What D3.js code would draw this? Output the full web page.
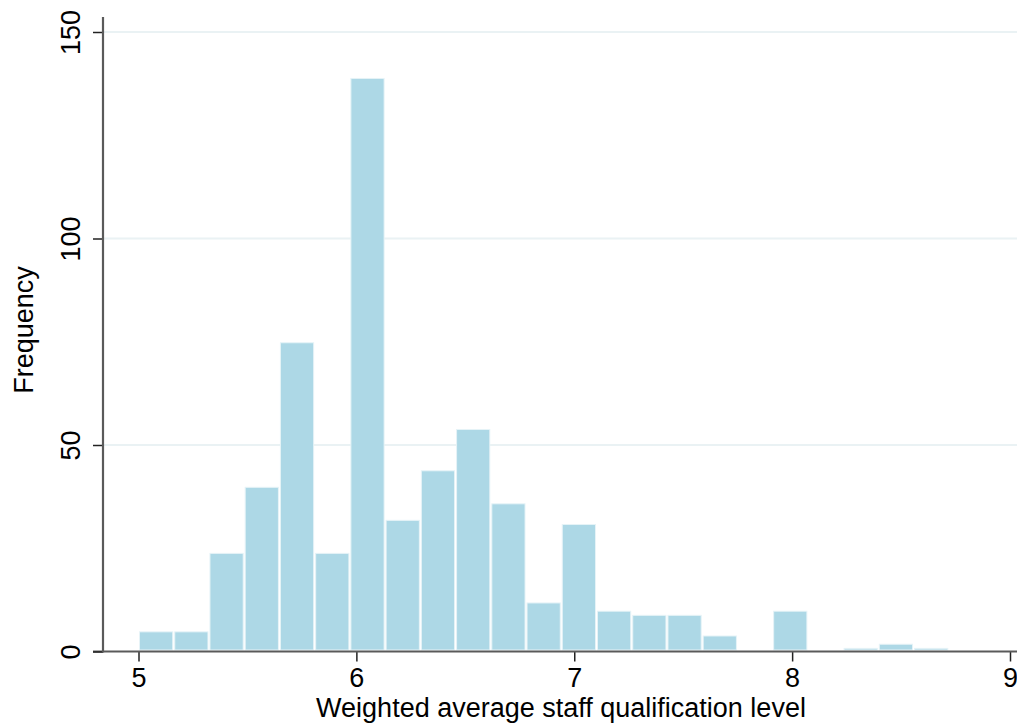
<!DOCTYPE html>
<html>
<head>
<meta charset="utf-8">
<script src="https://cdn.jsdelivr.net/npm/d3@7/dist/d3.min.js"></script>
<style>
  html, body { margin: 0; padding: 0; background: #fff; }
  svg { display: block; font-family: "Liberation Sans", Arial, sans-serif; }
</style>
</head>
<body>
<svg id="chart" width="1017" height="725"></svg>
<script>
// Histogram bins: left edge of first bin and common width
const binStart = 5.0;
const binWidth = 0.1617;
// Frequency in each bin
const counts = [5, 5, 24, 40, 75, 24, 139, 32, 44, 54, 36, 12, 31, 10, 9, 9, 4, 0, 10, 0, 1, 2, 1];
// Axis ticks
const xTicks = [5, 6, 7, 8, 9];
const yTicks = [0, 50, 100, 150];
const xTitle = "Weighted average staff qualification level";
const yTitle = "Frequency";

const bins = counts.map((c, i) => ({ x0: binStart + i * binWidth, x1: binStart + (i + 1) * binWidth, count: c }));

const svg = d3.select("#chart");
const axisX0 = 103, plotRight = 1017, axisY = 651.5;
const fontSize = 27;

const x = d3.scaleLinear().domain([5, 9]).range([138.5, 1010]);
const y = d3.scaleLinear().domain([0, 150]).range([axisY, 32]);

const axisColor = "#5a5a5a";

// horizontal grid lines
svg.append("g").selectAll("line")
  .data(yTicks.filter(t => t > 0))
  .join("line")
  .attr("x1", axisX0 + 1).attr("x2", plotRight)
  .attr("y1", d => y(d)).attr("y2", d => y(d))
  .attr("stroke", "#eaf2f4").attr("stroke-width", 2);

// bars
svg.append("g").selectAll("rect")
  .data(bins.filter(b => b.count > 0))
  .join("rect")
  .attr("x", d => x(d.x0) + 1)
  .attr("width", d => x(d.x1) - x(d.x0) - 2)
  .attr("y", d => y(d.count) + 1)
  .attr("height", d => axisY - 2.5 - y(d.count))
  .attr("fill", "#add8e6")
  .attr("stroke", "#e6f3f7")
  .attr("stroke-width", 1);

// x axis
const gx = svg.append("g").attr("transform", `translate(0,${axisY})`)
  .call(d3.axisBottom(x).tickValues(xTicks).tickFormat(d3.format("d")).tickSize(10).tickSizeOuter(0).tickPadding(6));
gx.select(".domain").remove();
gx.append("line").attr("x1", 93).attr("x2", plotRight).attr("stroke", axisColor).attr("stroke-width", 2.2);
gx.selectAll(".tick line").attr("stroke", "#222").attr("stroke-width", 1.5);
gx.selectAll(".tick text").attr("fill", "#000").attr("font-size", fontSize).attr("font-family", "Liberation Sans, Arial, sans-serif");

// y axis
const gy = svg.append("g").attr("transform", `translate(${axisX0},0)`)
  .call(d3.axisLeft(y).tickValues(yTicks).tickFormat(d3.format("d")).tickSize(10).tickSizeOuter(0).tickPadding(0));
gy.select(".domain").remove();
gy.append("line").attr("y1", 17).attr("y2", axisY + 1).attr("stroke", axisColor).attr("stroke-width", 2.2);
gy.selectAll(".tick line").attr("stroke", "#222").attr("stroke-width", 1.5);
gy.selectAll(".tick text")
  .attr("fill", "#000").attr("font-size", fontSize).attr("font-family", "Liberation Sans, Arial, sans-serif")
  .attr("text-anchor", "middle").attr("dy", null).attr("x", null)
  .attr("transform", "translate(-23,0) rotate(-90)");

// axis titles
svg.append("text")
  .attr("x", 561).attr("y", 717)
  .attr("text-anchor", "middle").attr("font-size", fontSize).attr("fill", "#000")
  .text(xTitle);

svg.append("text")
  .attr("transform", "translate(33,330) rotate(-90)")
  .attr("text-anchor", "middle").attr("font-size", fontSize).attr("fill", "#000")
  .text(yTitle);
</script>
</body>
</html>
